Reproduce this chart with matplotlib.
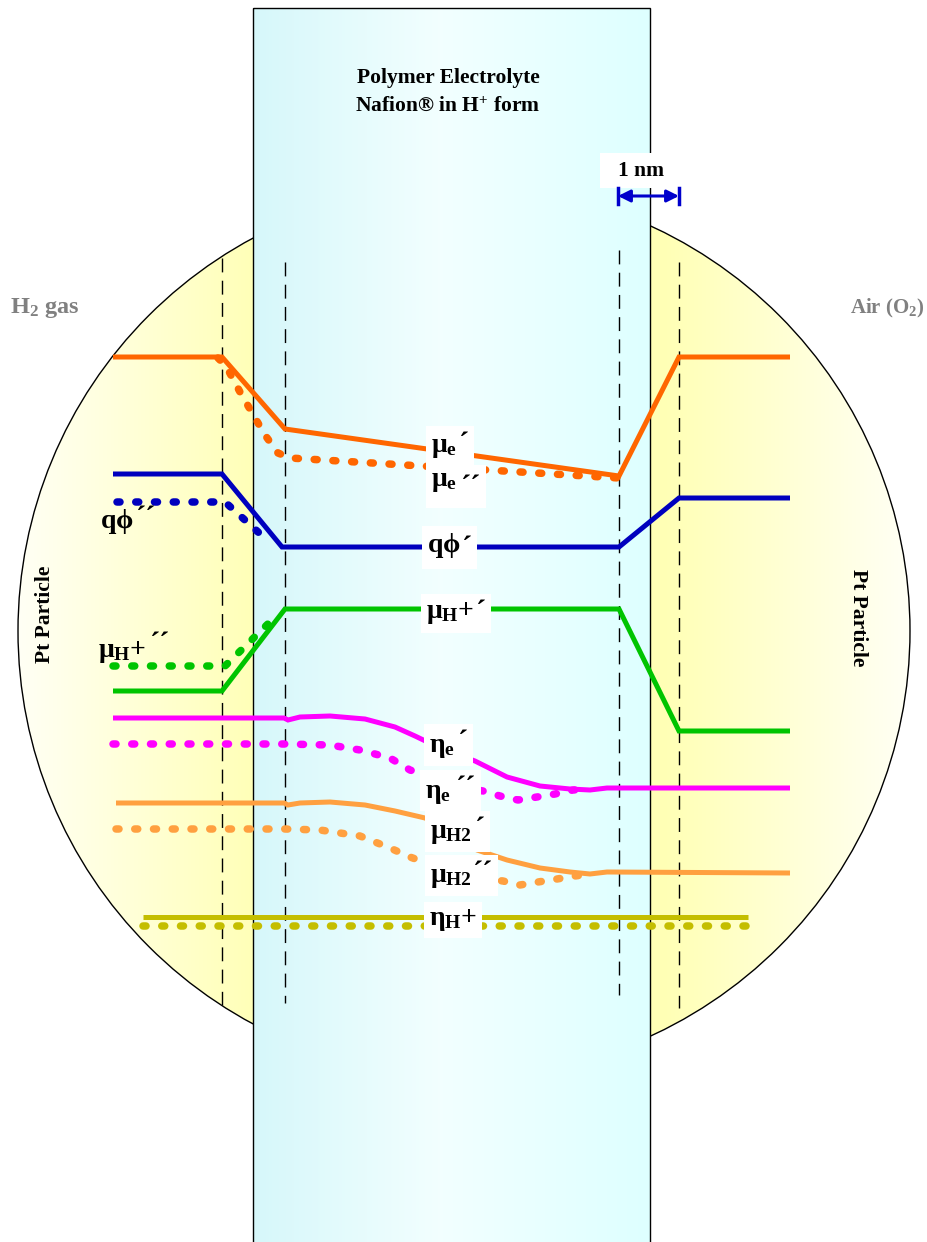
import numpy as np
import matplotlib.pyplot as plt
from matplotlib.patches import Circle, Rectangle
from matplotlib.transforms import Bbox

plt.rcParams['font.family'] = ['Liberation Serif', 'DejaVu Serif']
plt.rcParams['font.weight'] = 'bold'
plt.rcParams['mathtext.fontset'] = 'custom'
plt.rcParams['mathtext.rm'] = 'Liberation Serif:bold'
plt.rcParams['mathtext.it'] = 'Liberation Serif:bold'
plt.rcParams['mathtext.bf'] = 'Liberation Serif:bold'

# energy levels across Pt | Nafion | Pt (x = position, y = level, screen units)
mu_e_x = [113, 222, 285, 619, 679, 790]
mu_e_y = [357, 357, 429, 476, 357, 357]
mu_e2_x = [218, 226, 240, 265, 278, 290, 619]
mu_e2_y = [358, 366, 392, 435, 453, 458, 478]

qphi_x = [113, 222, 282, 619, 679, 790]
qphi_y = [474, 474, 547, 547, 498, 498]
qphi2_x = [117, 225, 268]
qphi2_y = [502, 502, 541]

mu_h_x = [113, 222, 285, 619, 679, 790]
mu_h_y = [691, 691, 609, 609, 731, 731]
mu_h2_x = [113, 225, 275]
mu_h2_y = [666, 666, 617]

eta_e_x = [113, 284, 288, 300, 330, 365, 395, 415, 440, 475, 507, 540, 570, 590, 607, 620, 790]
eta_e_y = [718, 718, 720, 717, 716, 719, 727, 736, 748, 761, 777, 786, 789, 790, 788, 788, 788]
eta_e2_x = [113, 285, 330, 360, 390, 410, 440, 465, 483, 500, 518, 537, 555, 573, 590]
eta_e2_y = [744, 744, 745, 750, 758, 770, 780, 788, 791, 796, 800, 797, 794, 790, 789]

mu_H2_x = [116, 284, 288, 300, 330, 365, 395, 425, 450, 477, 507, 540, 570, 590, 607, 790]
mu_H2_y = [803, 803, 805, 803, 802, 805, 811, 818, 830, 850, 860, 868, 872, 874, 872, 873]
mu_H22_x = [116, 285, 320, 360, 390, 410, 440, 470, 503, 520, 538, 557, 575, 590]
mu_H22_y = [829, 829, 830, 836, 848, 857, 868, 877, 881, 885, 882, 879, 876, 874]

eta_h_x = [143, 748]
eta_h_y = [917, 917]
eta_h2_y = [926, 926]

# interface positions (dashed) and their vertical extent
iface_x = [222, 285, 619, 679]
iface_top = [258, 262, 250, 262]
iface_bot = [1005, 1003, 995, 1008]

orange = '#FF6600'
blue = '#0000BE'
green = '#00C400'
magenta = '#FF00FF'
lt_orange = '#FFA040'
olive = '#C4BE00'

fig = plt.figure(figsize=(9.28, 12.42), dpi=100)
ax = fig.add_axes([0, 0, 1, 1])
ax.set_xlim(0, 928)
ax.set_ylim(1242, 0)
ax.axis('off')

# Pt particle: yellow disc, paler towards the rim
cx, cy, r = 464, 631, 446
gx = np.linspace(cx - r, cx + r, 500)
t = np.clip((np.abs(gx - cx) - 200) / (r - 200), 0, 1)
grad = np.ones((1, len(gx), 3))
grad[0, :, 2] = 0.71 + 0.25 * t
disc = Circle((cx, cy), r, facecolor='none', edgecolor='black', lw=1, zorder=2)
ax.add_patch(disc)
im = ax.imshow(grad, extent=[cx - r, cx + r, cy + r, cy - r], aspect='auto', zorder=1)
im.set_clip_path(Circle((cx, cy), r, transform=ax.transData))

# membrane slab
mx = np.linspace(253, 650, 400)
mcol = np.ones((1, len(mx), 3))
mcol[0, :, 0] = np.interp(mx, [253, 440, 650], [0.84, 0.95, 0.87])
mcol[0, :, 1] = np.interp(mx, [253, 440, 650], [0.97, 1.0, 1.0])
mcol[0, :, 2] = np.interp(mx, [253, 440, 650], [0.98, 1.0, 1.0])
ax.imshow(mcol, extent=[253, 650, 1242, 8], aspect='auto', zorder=3)
ax.add_patch(Rectangle((253, 8), 397, 1240, facecolor='none', edgecolor='black', lw=1, zorder=4))

for x, y0, y1 in zip(iface_x, iface_top, iface_bot):
    ax.plot([x, x], [y0, y1], color='black', lw=1, ls=(0, (10, 6)), zorder=5)

solid = dict(lw=3.6, solid_capstyle='butt', solid_joinstyle='miter', zorder=6)
dots = dict(lw=5.4, ls=(0, (0.4, 2.1)), dash_capstyle='round', zorder=6)

ax.plot(mu_e_x, mu_e_y, color=orange, **solid)
ax.plot(mu_e2_x, mu_e2_y, color=orange, **dots)
ax.plot(qphi_x, qphi_y, color=blue, **solid)
ax.plot(qphi2_x, qphi2_y, color=blue, **dots)
ax.plot(mu_h_x, mu_h_y, color=green, **solid)
ax.plot(mu_h2_x, mu_h2_y, color=green, **dots)
ax.plot(eta_e_x, eta_e_y, color=magenta, **solid)
ax.plot(eta_e2_x, eta_e2_y, color=magenta, **dots)
ax.plot(mu_H2_x, mu_H2_y, color=lt_orange, **solid)
ax.plot(mu_H22_x, mu_H22_y, color=lt_orange, **dots)
ax.plot(eta_h_x, eta_h_y, color=olive, **solid)
ax.plot(eta_h_x, eta_h2_y, color=olive, **dots)

# level labels: (x, y, symbol, primes, prime centre x, prime centre y, white box)
labels = [
    (431, 447, r'$\mu_{e}$', '´', 464, 435, True),
    (431, 482, r'$\mu_{e}$', '´´', 471, 478, True),
    (427, 545, r'$q\phi$', '´', 467, 539, True),
    (426, 613, r'$\mu_{H}{+}$', '´', 481, 603, True),
    (429, 748, r'$\eta_{e}$', '´', 463, 733, True),
    (425, 793, r'$\eta_{e}$', '´´', 466, 779, True),
    (430, 834, r'$\mu_{H2}$', '´', 480, 820, True),
    (430, 878, r'$\mu_{H2}$', '´´', 483, 864, True),
    (429, 920, r'$\eta_{H}{+}$', '', 0, 0, True),
    (100, 522, r'$q\phi$', '´´', 146, 509, False),
    (98, 652, r'$\mu_{H}{+}$', '´´', 160, 635, False),
]
renderer = fig.canvas.get_renderer()
inv = ax.transData.inverted()
for x, y, s, pr, px, py, boxed in labels:
    parts = [ax.text(x, y, s, fontsize=20, ha='left', va='center', zorder=8)]
    if pr:
        # acute glyph sits ~0.59 em above the baseline
        parts.append(ax.text(px, py + 18, pr, fontsize=22, ha='center',
                             va='baseline', zorder=8))
    if boxed:
        bb = Bbox.union([p.get_window_extent(renderer) for p in parts])
        (x0, y0), (x1, y1) = inv.transform([[bb.x0, bb.y1], [bb.x1, bb.y0]])
        ax.add_patch(Rectangle((x0 - 5, y0 - 5), x1 - x0 + 10, y1 - y0 + 10,
                               facecolor='white', edgecolor='none', zorder=7))

ax.text(448, 78, 'Polymer Electrolyte', fontsize=15.5, fontweight='bold',
        ha='center', va='center', zorder=7)
ax.text(448, 106, 'Nafion® in H$^{+}$ form', fontsize=15.5, fontweight='bold',
        ha='center', va='center', zorder=7)

ax.text(10, 308, 'H$_{2}$ gas', fontsize=17.5, fontweight='bold', color='#808080',
        ha='left', va='center')
ax.text(925, 308, 'Air (O$_{2}$)', fontsize=15, fontweight='bold', color='#808080',
        ha='right', va='center')

ax.text(45, 614, 'Pt Particle', fontsize=15.5, fontweight='bold', rotation=90,
        ha='center', va='center', zorder=7)
ax.text(858, 618, 'Pt Particle', fontsize=15.5, fontweight='bold', rotation=270,
        ha='center', va='center', zorder=7)

# 1 nm scale bar
ax.add_patch(Rectangle((600, 153), 68, 35, facecolor='white', edgecolor='none', zorder=6))
ax.text(641, 171, '1 nm', fontsize=15.5, fontweight='bold', ha='center', va='center', zorder=7)
ax.annotate('', xy=(679, 196), xytext=(618, 196),
            arrowprops=dict(arrowstyle='<|-|>', color='#0000CC', lw=2.2,
                            mutation_scale=18, shrinkA=0, shrinkB=0), zorder=7)
for x in (618, 679):
    ax.plot([x, x], [188, 204], color='#0000CC', lw=2.5, zorder=7)

fig.savefig('out.png', dpi=100)
